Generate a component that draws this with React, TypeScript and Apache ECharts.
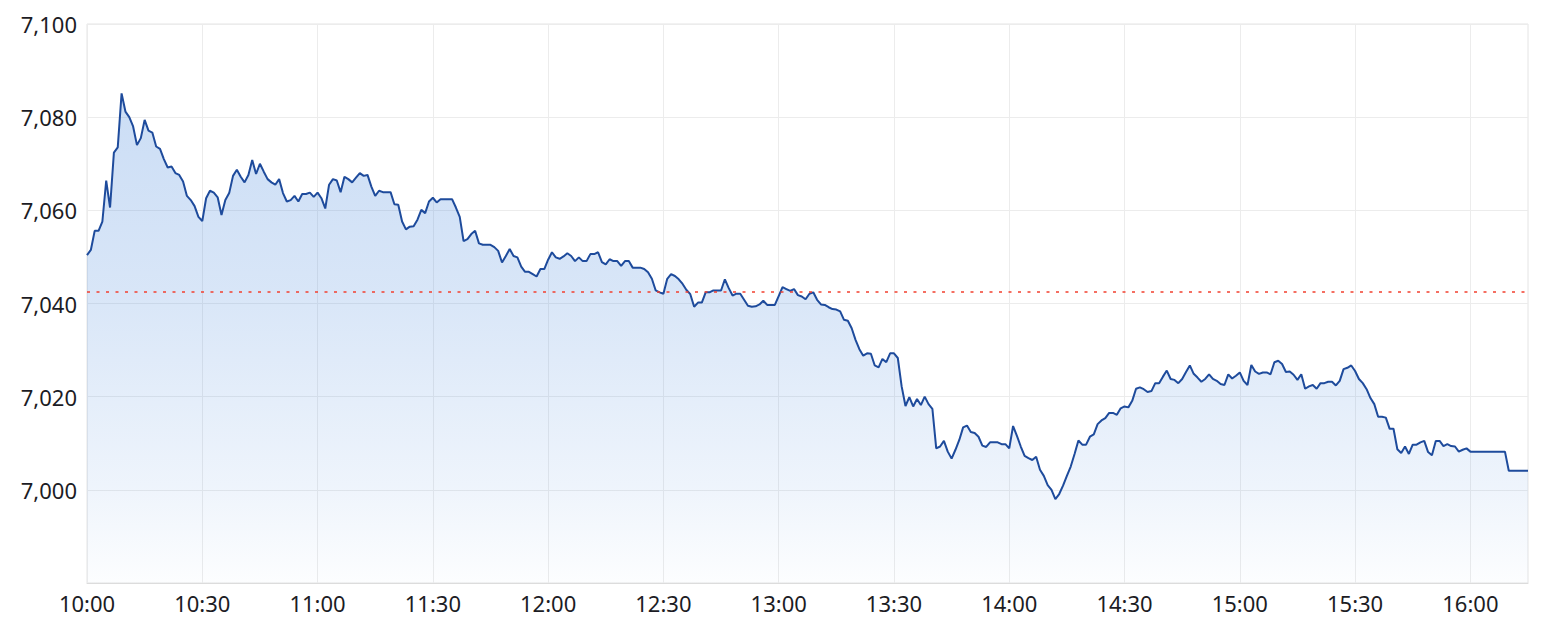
import { useEffect, useRef } from 'react';
import * as echarts from 'echarts';

// one point per minute, 10:00 .. 16:15
const startMinute = 10 * 60;

const prices: number[] = [
  7050.4, 7051.5, 7055.6, 7055.6, 7057.6, 7066.4, 7060.6, 7072.4, 7073.5, 7085.1,
  7081.2, 7080.0, 7078.0, 7074.0, 7075.5, 7079.4, 7077.1, 7076.7, 7073.7, 7073.2,
  7071.0, 7069.2, 7069.4, 7068.0, 7067.6, 7066.2, 7063.1, 7062.2, 7060.9, 7058.6,
  7057.7, 7062.6, 7064.2, 7063.8, 7062.8, 7059.0, 7062.2, 7063.7, 7067.4, 7068.7,
  7067.2, 7066.0, 7067.6, 7070.8, 7067.8, 7070.0, 7068.3, 7066.7, 7066.0, 7065.5,
  7066.7, 7063.7, 7061.9, 7062.2, 7063.1, 7061.9, 7063.5, 7063.5, 7063.8, 7062.9,
  7063.8, 7062.6, 7060.4, 7065.5, 7066.7, 7066.4, 7063.9, 7067.2, 7066.7, 7066.0,
  7067.0, 7068.0, 7067.4, 7067.6, 7065.1, 7063.1, 7064.2, 7063.9, 7063.9, 7063.9,
  7061.3, 7061.2, 7057.6, 7055.9, 7056.5, 7056.6, 7058.0, 7060.1, 7059.4, 7061.9,
  7062.7, 7061.7, 7062.4, 7062.4, 7062.4, 7062.4, 7060.6, 7058.6, 7053.4, 7053.8,
  7054.9, 7055.6, 7052.9, 7052.6, 7052.6, 7052.6, 7052.1, 7051.3, 7048.8, 7050.2,
  7051.7, 7050.2, 7049.9, 7047.9, 7046.8, 7046.8, 7046.3, 7045.8, 7047.4, 7047.4,
  7049.4, 7051.0, 7049.9, 7049.6, 7050.1, 7050.8, 7050.2, 7049.1, 7049.9, 7049.1,
  7049.1, 7050.6, 7050.6, 7051.0, 7048.9, 7048.4, 7049.5, 7049.1, 7049.1, 7048.1,
  7049.1, 7049.1, 7047.7, 7047.7, 7047.7, 7047.4, 7046.7, 7045.3, 7042.8, 7042.4,
  7042.1, 7045.3, 7046.3, 7045.9, 7045.2, 7044.2, 7042.9, 7042.0, 7039.3, 7040.2,
  7040.2, 7042.4, 7042.4, 7042.8, 7042.8, 7042.8, 7045.2, 7043.3, 7041.7, 7042.1,
  7042.1, 7040.8, 7039.5, 7039.3, 7039.4, 7039.8, 7040.6, 7039.7, 7039.7, 7039.7,
  7041.6, 7043.5, 7043.1, 7042.7, 7043.1, 7041.8, 7041.5, 7040.9, 7042.1, 7042.4,
  7040.8, 7039.8, 7039.7, 7039.2, 7038.8, 7038.7, 7038.3, 7036.5, 7036.3, 7034.7,
  7032.2, 7030.2, 7028.8, 7029.3, 7029.2, 7026.7, 7026.3, 7028.1, 7027.4, 7029.3,
  7029.3, 7028.3, 7022.2, 7018.0, 7019.9, 7017.9, 7019.5, 7018.2, 7020.0, 7018.4,
  7017.4, 7008.9, 7009.3, 7010.5, 7008.2, 7006.7, 7008.6, 7010.7, 7013.4, 7013.8,
  7012.4, 7012.2, 7011.4, 7009.5, 7009.2, 7010.2, 7010.2, 7010.2, 7009.8, 7009.8,
  7008.9, 7013.7, 7011.6, 7009.3, 7007.3, 7006.8, 7006.4, 7007.1, 7004.3, 7003.0,
  7001.0, 7000.0, 6998.0, 6999.1, 7000.9, 7003.0, 7005.0, 7007.7, 7010.6, 7009.7,
  7009.7, 7011.4, 7011.9, 7014.1, 7014.9, 7015.4, 7016.5, 7016.5, 7016.1, 7017.5,
  7017.9, 7017.7, 7019.1, 7021.7, 7022.0, 7021.6, 7021.0, 7021.2, 7022.9, 7022.9,
  7024.3, 7025.6, 7023.8, 7023.6, 7022.9, 7023.8, 7025.3, 7026.7, 7024.9, 7024.1,
  7023.2, 7023.8, 7024.8, 7023.8, 7023.4, 7022.7, 7022.5, 7024.8, 7023.9, 7024.5,
  7025.2, 7023.4, 7022.5, 7026.8, 7025.4, 7024.9, 7025.2, 7025.2, 7024.8, 7027.4,
  7027.7, 7027.0, 7025.3, 7025.4, 7024.7, 7023.6, 7024.8, 7021.7, 7022.2, 7022.5,
  7021.7, 7022.9, 7022.9, 7023.2, 7023.2, 7022.4, 7023.4, 7025.9, 7026.2, 7026.7,
  7025.5, 7023.8, 7022.9, 7021.6, 7019.7, 7018.4, 7015.7, 7015.7, 7015.5, 7013.1,
  7013.1, 7008.7, 7007.9, 7009.3, 7007.7, 7009.7, 7009.7, 7010.2, 7010.5, 7008.1,
  7007.4, 7010.5, 7010.5, 7009.4, 7009.8, 7009.4, 7009.3, 7008.2, 7008.6, 7008.9,
  7008.2, 7008.2, 7008.2, 7008.2, 7008.2, 7008.2, 7008.2, 7008.2, 7008.2, 7008.2,
  7004.1, 7004.1, 7004.1, 7004.1, 7004.1, 7004.1,
];

const times: string[] = prices.map((_, i) => {
  const m = startMinute + i;
  return `${Math.floor(m / 60)}:${String(m % 60).padStart(2, '0')}`;
});

const previousClose = 7042.5;

const yMin = 6980;
const yMax = 7100;
const yStep = 20;

const FONT = '"Noto Sans", sans-serif';

export default function App() {
  const chartRef = useRef<HTMLDivElement>(null);

  useEffect(() => {
    if (!chartRef.current) return;

    const chart = echarts.init(chartRef.current, null, { renderer: 'svg' });

    const halfHour = (index: number) => index % 30 === 0;

    const option = {
      animation: false,
      grid: {
        left: 87,
        right: 19,
        top: 24,
        bottom: 40,
        show: true,
        borderColor: '#e4e4e4',
        borderWidth: 1,
      },
      xAxis: {
        type: 'category',
        data: times,
        boundaryGap: false,
        axisLine: { lineStyle: { color: '#dcdcdc' } },
        axisTick: { show: false },
        axisLabel: {
          interval: (index: number) => halfHour(index),
          color: '#1c1c24',
          fontSize: 22,
          fontFamily: FONT,
          margin: 9,
        },
        splitLine: {
          show: true,
          interval: (index: number) => halfHour(index),
          lineStyle: { color: '#ececec' },
        },
      },
      yAxis: {
        type: 'value',
        min: yMin,
        max: yMax,
        interval: yStep,
        axisLine: { show: false },
        axisTick: { show: false },
        axisLabel: {
          color: '#1c1c24',
          fontSize: 22,
          fontFamily: FONT,
          margin: 10,
          formatter: (v: number) => (v === yMin ? '' : v.toLocaleString('en-US')),
        },
        splitLine: { lineStyle: { color: '#ececec' } },
      },
      series: [
        {
          type: 'line',
          data: prices,
          symbol: 'none',
          lineStyle: { color: '#1e4b9c', width: 2 },
          areaStyle: {
            color: new echarts.graphic.LinearGradient(0, 0, 0, 1, [
              { offset: 0, color: 'rgba(70, 135, 220, 0.4)' },
              { offset: 0.4, color: 'rgba(70, 135, 220, 0.3)' },
              { offset: 0.8, color: 'rgba(70, 135, 220, 0.13)' },
              { offset: 1, color: 'rgba(70, 135, 220, 0.02)' },
            ]),
          },
          markLine: {
            silent: true,
            symbol: 'none',
            label: { show: false },
            lineStyle: { color: '#f2402f', width: 1.5, type: [3, 6.5] },
            data: [{ yAxis: previousClose }],
          },
        },
      ],
    };

    chart.setOption(option);

    const handleResize = () => chart.resize();
    window.addEventListener('resize', handleResize);

    return () => {
      window.removeEventListener('resize', handleResize);
      chart.dispose();
    };
  }, []);

  return (
    <div
      ref={chartRef}
      style={{ position: 'absolute', left: 0, top: 0, width: 1547, height: 623 }}
    />
  );
}
